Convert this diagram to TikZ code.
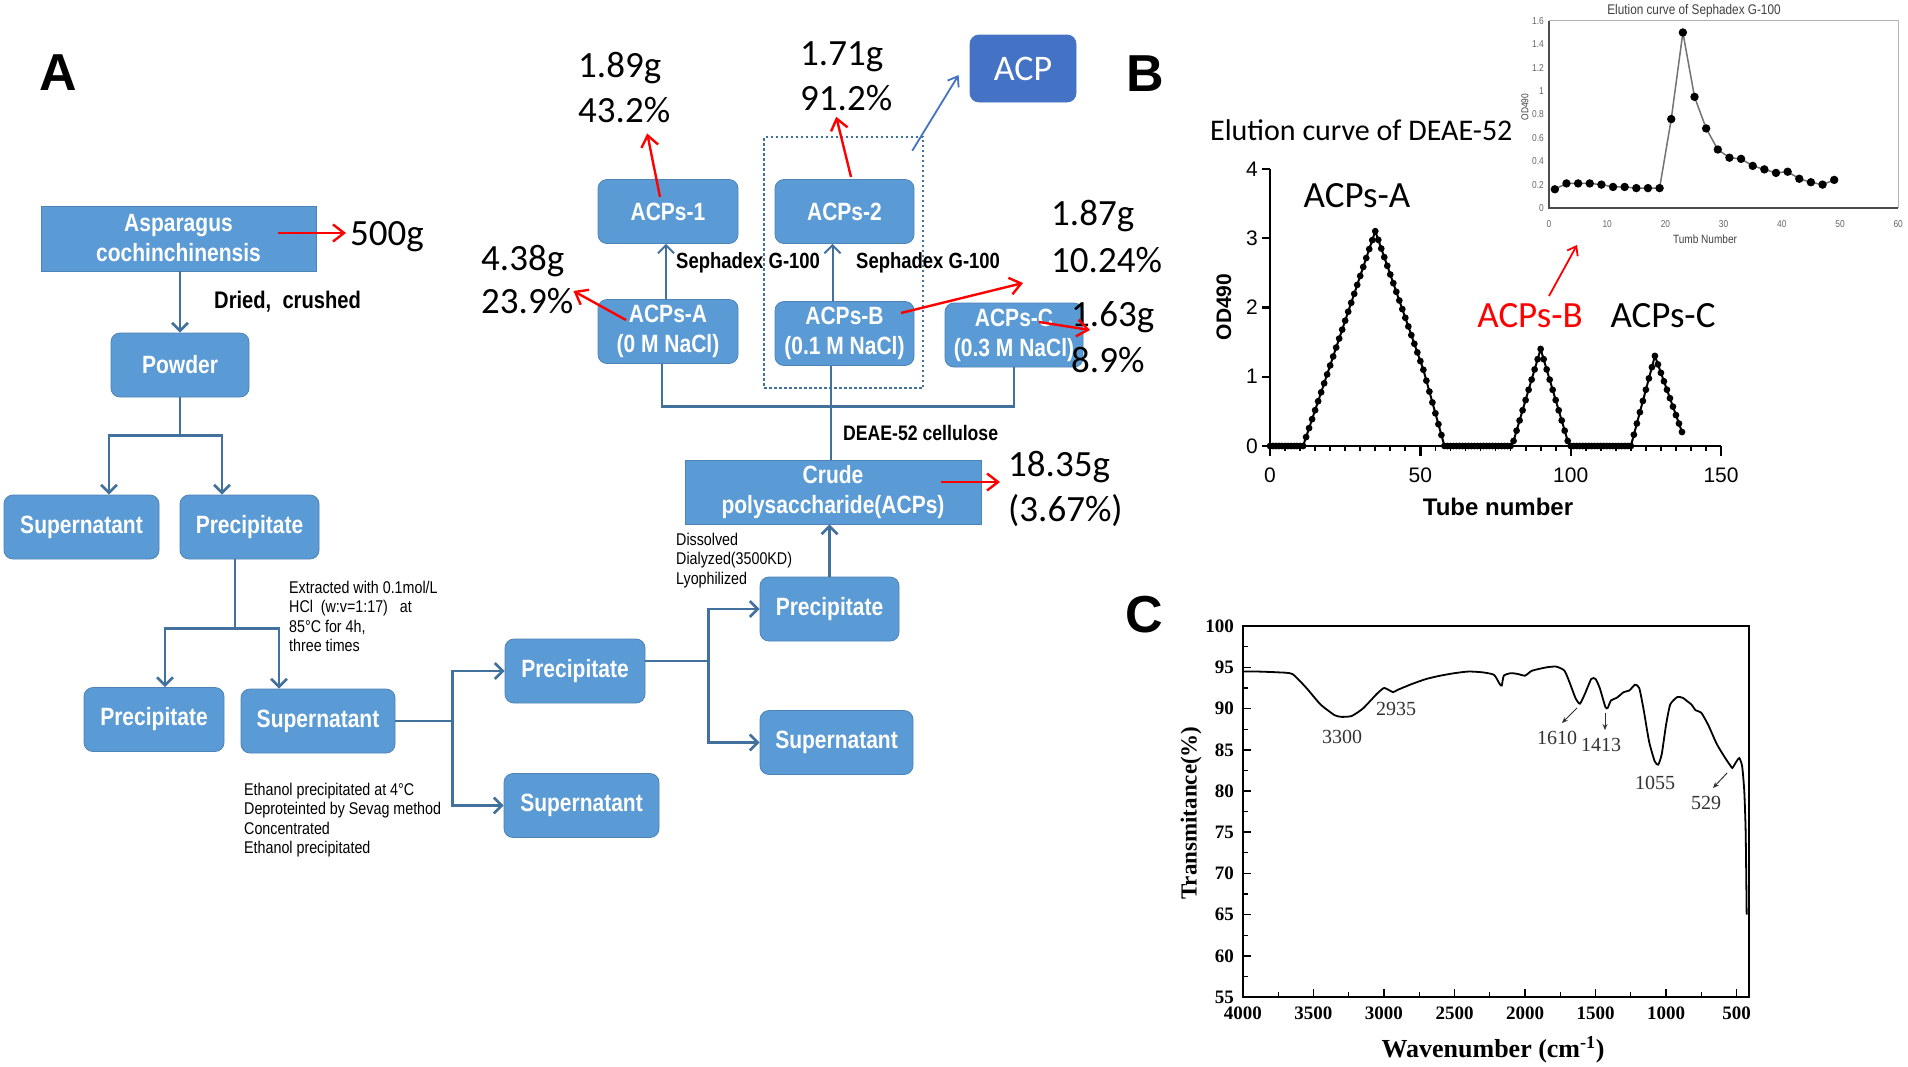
\documentclass[tikz,border=0pt]{standalone}
\usepackage{fontspec}
\setmainfont{Carlito}
\newfontfamily\narrowfont[FakeStretch=0.84]{Liberation Sans}
\newfontfamily\arialfont{Liberation Sans}
\newfontfamily\timesfont{Liberation Serif}
\usetikzlibrary{positioning,arrows.meta,calc}
\definecolor{boxblue}{HTML}{5B9BD5}
\definecolor{lineblue}{HTML}{41719C}
\definecolor{acpblue}{HTML}{4472C4}
\tikzset{
  box/.style={fill=boxblue, draw=boxblue!85!black, line width=0.8pt, rounded corners=9pt,
    text=white, font=\narrowfont\bfseries\fontsize{25}{30}\selectfont,
    minimum height=64pt, inner sep=0pt, align=center},
  sqbox/.style={box, rounded corners=0pt},
  plain/.style={draw=lineblue, line width=2.6pt},
  flow/.style={plain, -{Straight Barb[length=8pt,width=16pt]}},
  redarr/.style={draw=red, line width=2.4pt, -{Straight Barb[length=11pt,width=17pt]}},
  num/.style={font=\fontsize{37}{45}\selectfont, align=left, inner sep=0pt, anchor=west},
  note/.style={font=\narrowfont\fontsize{17}{19.3}\selectfont, align=left, inner sep=0pt, anchor=north west},
  lab/.style={font=\narrowfont\bfseries\fontsize{22}{26}\selectfont, inner sep=0pt, anchor=west},
  panel/.style={font=\arialfont\bfseries\fontsize{52}{60}\selectfont, inner sep=0pt},
  tick/.style={font=\arialfont\fontsize{21}{24}\selectfont, inner sep=0pt},
  itick/.style={font=\narrowfont\fontsize{10}{12}\selectfont, text=black!60, inner sep=0pt},
  ttick/.style={font=\timesfont\bfseries\fontsize{19}{22}\selectfont, inner sep=0pt},
  peak/.style={font=\timesfont\fontsize{20}{22}\selectfont, text=black!80, inner sep=0pt},
  tinyarr/.style={draw=black!80, line width=1pt, -{Stealth[length=6pt,width=5pt]}}
}
\begin{document}
\begin{tikzpicture}[x=1pt, y=-1pt]
	\fill[white] (0,0) rectangle (1908,1066);
	\useasboundingbox (0,0) rectangle (1908,1066);

	% panel A : flow chart
	\node[panel] (pA) at (58,73) {A};
	\node[sqbox, minimum width=275pt, minimum height=65pt] (asp) at (178.5,238.5) {Asparagus\\cochinchinensis};
	\node[box, minimum width=138pt] (powder) at (180,365) {Powder};
	\node[box, minimum width=155pt] (sup1) at (81.5,527) {Supernatant};
	\node[box, minimum width=139pt] (pre1) at (249.5,527) {Precipitate};
	\node[box, minimum width=140pt] (pre2) at (154,719.5) {Precipitate};
	\node[box, minimum width=154pt] (sup2) at (318,721) {Supernatant};
	\node[box, minimum width=140pt] (pre3) at (575,671) {Precipitate};
	\node[box, minimum width=155pt] (sup3) at (581.5,805.5) {Supernatant};
	\node[box, minimum width=139pt] (pre4) at (829.5,609) {Precipitate};
	\node[box, minimum width=153pt] (sup4) at (836.5,742.5) {Supernatant};
	\node[sqbox, minimum width=296pt] (crude) at (833,492) {Crude\\polysaccharide(ACPs)};
	\node[box, minimum width=140pt] (acpsA) at (668,331.5) {ACPs-A\\(0 M NaCl)};
	\node[box, minimum width=139pt] (acpsB) at (844.5,333.5) {ACPs-B\\(0.1 M NaCl)};
	\node[box, minimum width=138pt] (acpsC) at (1014,335) {ACPs-C\\(0.3 M NaCl)};
	\node[box, minimum width=140pt] (acps1) at (668,211.5) {ACPs-1};
	\node[box, minimum width=139pt] (acps2) at (844.5,211.5) {ACPs-2};
	\node[box, fill=acpblue, draw=acpblue, minimum width=106pt, minimum height=67pt,
		font=\fontsize{36}{40}\selectfont] (acp) at (1023,68.5) {ACP};
	\node[draw=lineblue, line width=2.5pt, dash pattern=on 2.5pt off 2.5pt,
		minimum width=159pt, minimum height=251pt, inner sep=0pt] (grp) at (843.5,262.5) {};

	\node[num] (w500) at (350,237) {500g};
	\node[num] (n189) at (578,88) {1.89g\\43.2\%};
	\node[num] (n171) at (800,76) {1.71g\\91.2\%};
	\node[num, font=\fontsize{37}{43}\selectfont] (n438) at (481,280) {4.38g\\23.9\%};
	\node[num, font=\fontsize{37}{47}\selectfont] (n187) at (1051,236.5) {1.87g\\10.24\%};
	\node[num, font=\fontsize{37}{46}\selectfont] (n163) at (1071,337) {1.63g\\8.9\%};
	\node[num] (n1835) at (1008,489) {18.35g\\(3.67\%)};

	\node[lab, font=\narrowfont\bfseries\fontsize{24}{28}\selectfont] (dried) at (214,302) {Dried,\ \ crushed};
	\node[lab] (seph1) at (676,263) {Sephadex G-100};
	\node[lab] (seph2) at (856,263) {Sephadex G-100};
	\node[lab, font=\narrowfont\bfseries\fontsize{21}{25}\selectfont] (deae) at (843,433) {DEAE-52 cellulose};
	\node[note] (ext) at (289,581) {Extracted with 0.1mol/L\\HCl\ \ (w:v=1:17)\ \ \ at\\85°C for 4h,\\three times};
	\node[note] (eth) at (244,783) {Ethanol precipitated at 4°C\\Deproteinted by Sevag method\\Concentrated\\Ethanol precipitated};
	\node[note] (dis) at (676,533) {Dissolved\\Dialyzed(3500KD)\\Lyophilized};

	\draw[flow] (powder.north |- asp.south) -- (powder.north);
	\coordinate (j1) at ($(powder.south)+(0,38)$);
	\draw[plain] (powder.south) -- (j1);
	\draw[flow] (j1) -| ([xshift=27.5pt]sup1.north);
	\draw[flow] (j1) -| ([xshift=-27.5pt]pre1.north);
	\coordinate (j2) at ($(pre1.south)+(-14.5,69)$);
	\draw[plain] (j2 |- pre1.south) -- (j2);
	\draw[flow] (j2) -| ([xshift=11pt]pre2.north);
	\draw[flow] (j2) -| ([xshift=-39pt]sup2.north);
	\coordinate (j3) at ($(sup2.east)+(57,0)$);
	\draw[plain] (sup2.east) -- (j3);
	\draw[flow] (j3) |- (pre3.west);
	\draw[flow] (j3) |- (sup3.west);
	\coordinate (j4) at ($(pre3.east)+(63,-10)$);
	\draw[plain] ([yshift=10pt]pre3.east) -- (j4);
	\draw[flow] (j4) |- (pre4.west);
	\draw[flow] (j4) |- (sup4.west);
	\draw[flow] (pre4.north) -- (pre4.north |- crude.south);
	\coordinate (j5) at ($(crude.north)+(0,-53)$);
	\draw[plain] ([xshift=-2pt]crude.north) -- ([xshift=-2pt]crude.north |- acpsB.south);
	\draw[plain] ([xshift=-6pt]acpsA.south) |- (j5) -| (acpsC.south);
	\draw[flow, line width=2pt] ([xshift=-2pt]acpsA.north) -- ([xshift=-2pt]acps1.south);
	\draw[flow, line width=2pt] ([xshift=-12pt]acpsB.north) -- ([xshift=-12pt]acps2.south);
	\draw[draw=acpblue, line width=1.8pt, -{Straight Barb[length=9pt,width=13pt]}]
		([xshift=-12pt,yshift=-15pt]grp.north east) -- ([xshift=-11pt,yshift=-6.5pt]acp.west);

	\draw[redarr] ([xshift=-38pt,yshift=5.5pt]asp.east) -- ([xshift=-4pt,yshift=4pt]w500.west);
	\draw[redarr] ([xshift=-42pt,yshift=11.5pt]acpsA.center) -- ([yshift=-11pt]n438.east);
	\draw[redarr] ([xshift=-8pt,yshift=14.5pt]acps1.center) -- ([xshift=23pt,yshift=-10pt]n189.south);
	\draw[redarr] ([xshift=6.5pt,yshift=34.5pt]acps2.center) -- ([xshift=-10pt,yshift=-6pt]n171.south);
	\draw[redarr] ([xshift=56.5pt,yshift=20.5pt]acpsB.center) -- ([xshift=-28pt,yshift=-10pt]n187.south west);
	\draw[redarr] ([xshift=25pt,yshift=13pt]acpsC.center) -- ([xshift=19pt,yshift=7pt]n163.west);
	\draw[redarr] ([xshift=108pt,yshift=10pt]crude.center) -- ([xshift=-8pt,yshift=7pt]n1835.west);

	% panel B : DEAE-52 elution
	\node[panel] (pB) at (1145,74) {B};
	\node[font=\fontsize{30}{36}\selectfont, inner sep=0pt, anchor=west] (ttl) at (1210,130) {Elution curve of DEAE-52};
	\begin{scope}[shift={(1270,446)}, x=3.007pt, y=69.3pt,
		declare function={od(\t)=(\t<35)*max(0,3.1*(\t-11)/24)+(\t>34.99)*(\t<51)*(3.1-0.125*(\t-35))
			+(\t>50.99)*max(0,1.1-0.157*(\t-51))+1.4*max(0,1-abs(\t-90)/9.5)
			+(\t<128)*1.3*max(0,1-(128-\t)/8)+(\t>127.99)*(1.3-0.122*(\t-128));}]
		\draw[line width=2.6pt] (0,4) -- (0,0) -- (150,0);
		\foreach \v in {0,...,4} {
			\draw[line width=2.4pt] (0,\v) -- ++(-8pt,0pt);
			\node[tick, anchor=east] at ([xshift=-12pt]0,\v) {\v};
		}
		\foreach \t in {5,10,...,145} \draw[line width=1.8pt] (\t,0) -- ++(0pt,-5pt);
		\foreach \t in {0,50,100,150} {
			\draw[line width=2.4pt] (\t,0) -- ++(0pt,-10pt);
			\node[tick] at ([yshift=-29pt]\t,0) {\t};
		}
		\draw[line width=2pt] plot[variable=\t, domain=0:137, samples=138, mark=*, mark size=2.3pt] (\t,{od(\t)});
	\end{scope}
	\node[font=\arialfont\bfseries\fontsize{24}{28}\selectfont, inner sep=0pt] (xlab) at (1498,507) {Tube number};
	\node[font=\arialfont\bfseries\fontsize{21}{24}\selectfont, inner sep=0pt, rotate=90] (ylab) at (1224,307) {OD490};
	\node[font=\fontsize{37}{40}\selectfont, inner sep=0pt] (pkA) at (1357,196) {ACPs-A};
	\node[font=\fontsize{37}{40}\selectfont, inner sep=0pt, text=red] (pkB) at (1530,316) {ACPs-B};
	\node[font=\fontsize{37}{40}\selectfont, inner sep=0pt] (pkC) at (1663,316) {ACPs-C};
	\coordinate (inpt) at (1577,245);
	\draw[draw=red, line width=1.8pt, -{Straight Barb[length=8pt,width=12pt]}] ([xshift=19pt,yshift=20pt]pkB.center) -- (inpt);

	% inset : Sephadex G-100 elution
	\begin{scope}[shift={(1549,208)}, x=5.82pt, y=117pt]
		\draw[black!30, line width=1pt] (0,1.6) -- (60,1.6) -- (60,0);
		\draw[black!70, line width=1.4pt] (0,1.6) -- (0,0) -- (60,0);
		\foreach \v in {0,0.2,0.4,0.6,0.8,1,1.2,1.4,1.6}
			\node[itick, anchor=east] at ([xshift=-5pt]0,\v) {\v};
		\foreach \t in {0,10,...,60}
			\node[itick] at ([yshift=-16pt]\t,0) {\t};
		\draw[black!55, line width=1.5pt] plot[mark=*, mark size=3.4pt, mark options={black}] coordinates {
			(1,0.16) (3,0.21) (5,0.21) (7,0.21) (9,0.20) (11,0.18) (13,0.18) (15,0.17) (17,0.17) (19,0.17)
			(21,0.76) (23,1.5) (25,0.95) (27,0.68) (29,0.50) (31,0.43) (33,0.42) (35,0.36) (37,0.33)
			(39,0.30) (41,0.31) (43,0.25) (45,0.22) (47,0.20) (49,0.24)};
	\end{scope}
	\node[font=\narrowfont\fontsize{14}{16}\selectfont, text=black!75, inner sep=0pt] (ittl) at (1694,11) {Elution curve of Sephadex G-100};
	\node[font=\narrowfont\fontsize{12}{14}\selectfont, text=black!75, inner sep=0pt] (ixl) at (1705,239) {Tumb Number};
	\node[font=\narrowfont\fontsize{10}{12}\selectfont, text=black!75, inner sep=0pt, rotate=90] (iyl) at (1525,107) {OD490};

	% panel C : FT-IR
	\node[panel] (pC) at (1144,615) {C};
	\begin{scope}[shift={(1807,1450.2)}, x=-0.141pt, y=8.24pt]
		\draw[line width=1.8pt] (4000,55) rectangle (411,100);
		\foreach \v in {55,60,...,100} {
			\draw[line width=1.5pt] (4000,\v) -- ++(8pt,0pt);
			\node[ttick, anchor=east] at ([xshift=-9pt]4000,\v) {\v};
		}
		\foreach \v in {57.5,62.5,...,97.5} \draw[line width=1.2pt] (4000,\v) -- ++(5pt,0pt);
		\foreach \w in {4000,3500,...,500} {
			\draw[line width=1.5pt] (\w,55) -- ++(0pt,8pt);
			\node[ttick] at ([yshift=-16pt]\w,55) {\w};
		}
		\foreach \w in {3750,3250,...,750} \draw[line width=1.2pt] (\w,55) -- ++(0pt,5pt);
		\draw[line width=1.8pt] plot[smooth, tension=0.35] coordinates {
			(4000,94.5) (3900,94.5) (3750,94.4) (3650,94.2) (3550,92.5) (3450,90.5) (3350,89.2) (3300,89.0)
			(3230,89.1) (3150,90.0) (3050,91.8) (3000,92.5) (2960,92.2) (2935,92.0) (2900,92.3) (2800,93.0)
			(2700,93.6) (2600,94.0) (2500,94.3) (2400,94.5) (2300,94.4) (2220,94.1) (2180,93.0) (2165,92.8)
			(2150,94.0) (2100,94.3) (2050,94.2) (2000,94.0) (1950,94.6) (1850,95.0) (1780,95.1) (1720,94.6)
			(1680,93.0) (1640,91.2) (1610,90.6) (1575,91.8) (1530,93.6) (1500,93.6) (1470,92.5) (1430,90.2)
			(1413,90.1) (1390,91.0) (1350,91.3) (1300,92.0) (1260,92.2) (1220,92.9) (1190,92.5) (1160,90.0)
			(1120,86.0) (1080,83.6) (1055,83.2) (1030,84.5) (1000,88.0) (970,90.5) (920,91.4) (880,91.3)
			(850,90.9) (820,90.5) (790,89.8) (750,89.5) (700,88.0) (640,85.7) (580,84.0) (540,83.0)
			(529,82.8) (500,83.6) (480,84.0) (460,83.0) (445,80.0) (435,75.0) (428,65.0)};
	\end{scope}
	\node[font=\timesfont\bfseries\fontsize{26}{30}\selectfont, inner sep=0pt] (wlab) at (1493,1050) {Wavenumber (cm\textsuperscript{-1})};
	\node[font=\timesfont\bfseries\fontsize{23}{26}\selectfont, inner sep=0pt, rotate=90] (tlab) at (1191,813) {Transmitance(\%)};
	\node[peak] (l3300) at (1342,737) {3300};
	\node[peak] (l2935) at (1396,709) {2935};
	\node[peak] (l1610) at (1557,738) {1610};
	\node[peak] (l1413) at (1601,745) {1413};
	\node[peak] (l1055) at (1655,783) {1055};
	\node[peak] (l529) at (1706,803) {529};
	\coordinate (p1610) at (1577,708);
	\coordinate (p1413) at (1605,713);
	\coordinate (p529) at (1727,773);
	\draw[tinyarr] (p1610) -- ([xshift=5pt,yshift=15pt]l1610.center);
	\draw[tinyarr] (p1413) -- ([xshift=4pt,yshift=15pt]l1413.center);
	\draw[tinyarr] (p529) -- ([xshift=7pt,yshift=15pt]l529.center);
\end{tikzpicture}
\end{document}
